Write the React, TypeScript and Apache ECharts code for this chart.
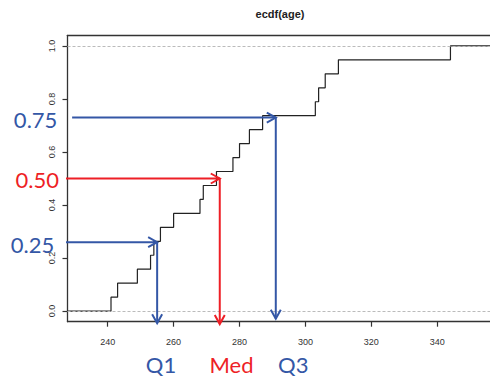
import React, { useEffect, useRef } from "react";
import * as echarts from "echarts";

// Sorted ages (one jump per observation in the ECDF)
const ages = [241, 243, 249, 253, 254, 256, 260, 268, 269, 273, 278, 280, 283, 287, 303, 304, 306, 310, 344];
const xTicks = [240, 260, 280, 300, 320, 340];
const yTicks = [0, 0.2, 0.4, 0.6, 0.8, 1.0];
const yTickLabels = ["0.0", "0.2", "0.4", "0.6", "0.8", "1.0"];

// Annotation arrows (Q1, Med, Q3)
const quantileX = [255, 274, 291];
const arrowLevels = [0.26, 0.5, 0.73];
const arrowStartX = [227.35, 227.35, 229.2];
const arrowBottom = [-0.046, -0.049, -0.029];
const arrowColorIdx = [0, 1, 0];
const levelLabels = ["0.25", "0.50", "0.75"];
const quantileLabels = ["Q1", "Med", "Q3"];

const X_MIN = 227.8;
const X_MAX = 356;
const Y_MIN = -0.04;
const Y_MAX = 1.04;

const BLUE = "#3457a6";
const RED = "#ee1f26";
const COLORS = [BLUE, RED];

export default function App() {
  const ref = useRef<HTMLDivElement>(null);
  useEffect(() => {
    if (!ref.current) return;
    const chart = echarts.init(ref.current, null, { renderer: "svg" });
    const n = ages.length;
    const stepData: number[][] = [[X_MIN, 0]];
    ages.forEach((a, i) => stepData.push([a, (i + 1) / n]));
    stepData.push([X_MAX, 1]);

    const arrowData: number[][] = [];
    quantileX.forEach((qx, i) => {
      arrowData.push([arrowStartX[i], arrowLevels[i], qx, arrowLevels[i], arrowColorIdx[i]]);
      arrowData.push([qx, arrowLevels[i], qx, arrowBottom[i], arrowColorIdx[i]]);
    });

    const labelPos = [
      [32.5, 244.2],
      [37.2, 179.2],
      [35.6, 119],
    ];
    const qPos = [161, 231.5, 293.3];

    const graphics: any[] = [
      {
        type: "text",
        x: 280,
        y: 14,
        style: {
          text: "ecdf(age)",
          font: "bold 11px 'Liberation Sans', Arial, sans-serif",
          fill: "#222",
          textAlign: "center",
          textVerticalAlign: "middle",
        },
      },
    ];
    levelLabels.forEach((t, i) => {
      graphics.push({
        type: "text",
        x: labelPos[i][0],
        y: labelPos[i][1],
        style: {
          text: t,
          font: "22px Lato, sans-serif",
          fill: COLORS[arrowColorIdx[i]],
          textAlign: "center",
          textVerticalAlign: "middle",
        },
      });
    });
    quantileLabels.forEach((t, i) => {
      graphics.push({
        type: "text",
        x: qPos[i],
        y: 364,
        style: {
          text: t,
          font: "22px Lato, sans-serif",
          fill: COLORS[arrowColorIdx[i]],
          textAlign: "center",
          textVerticalAlign: "middle",
        },
      });
    });

    chart.setOption({
      animation: false,
      grid: { left: 67.5, top: 35.3, right: 0, bottom: 57.3, containLabel: false },
      xAxis: [
        {
          type: "value",
          min: X_MIN,
          max: X_MAX,
          position: "bottom",
          axisLine: { show: true, onZero: false, lineStyle: { color: "#333", width: 1.3 } },
          axisTick: { show: true, length: 5, customValues: xTicks, lineStyle: { color: "#333", width: 1.2 } },
          axisLabel: {
            show: true,
            customValues: xTicks,
            margin: 16,
            fontSize: 9,
            color: "#333",
            fontFamily: "'Liberation Sans', Arial, sans-serif",
          },
          splitLine: { show: false },
        },
        {
          type: "value",
          min: X_MIN,
          max: X_MAX,
          position: "top",
          axisLine: { show: true, onZero: false, lineStyle: { color: "#333", width: 1.3 } },
          axisTick: { show: false },
          axisLabel: { show: false },
          splitLine: { show: false },
        },
      ],
      yAxis: {
        type: "value",
        min: Y_MIN,
        max: Y_MAX,
        axisLine: { show: true, onZero: false, lineStyle: { color: "#333", width: 1.3 } },
        axisTick: { show: true, length: 5, customValues: yTicks, lineStyle: { color: "#333", width: 1.2 } },
        axisLabel: {
          show: true,
          customValues: yTicks,
          rotate: 90,
          margin: 11,
          fontSize: 9,
          color: "#333",
          fontFamily: "'Liberation Sans', Arial, sans-serif",
          formatter: (v: number) => {
            const idx = yTicks.findIndex((t) => Math.abs(t - v) < 1e-6);
            return idx >= 0 ? yTickLabels[idx] : "";
          },
        },
        splitLine: { show: false },
      },
      series: [
        {
          type: "line",
          step: "end",
          data: stepData,
          showSymbol: false,
          symbol: "none",
          lineStyle: { color: "#222", width: 1.2 },
          z: 2,
          markLine: {
            silent: true,
            symbol: "none",
            label: { show: false },
            lineStyle: { type: [3, 2], color: "#bbb", width: 1 },
            data: [{ yAxis: 0 }, { yAxis: 1 }],
          },
        },
        {
          type: "custom",
          clip: false,
          z: 5,
          encode: { x: [0, 2], y: [1, 3] },
          data: arrowData,
          renderItem: (params: any, api: any) => {
            const p1 = api.coord([api.value(0), api.value(1)]);
            const p2 = api.coord([api.value(2), api.value(3)]);
            const color = COLORS[api.value(4)];
            const dx = p2[0] - p1[0];
            const dy = p2[1] - p1[1];
            const len = Math.sqrt(dx * dx + dy * dy) || 1;
            const ux = dx / len;
            const uy = dy / len;
            const L = 9;
            const W = 5;
            const h1 = [p2[0] - ux * L - uy * W, p2[1] - uy * L + ux * W];
            const h2 = [p2[0] - ux * L + uy * W, p2[1] - uy * L - ux * W];
            return {
              type: "group",
              children: [
                {
                  type: "line",
                  shape: { x1: p1[0], y1: p1[1], x2: p2[0], y2: p2[1] },
                  style: { stroke: color, lineWidth: 2 },
                },
                {
                  type: "polyline",
                  shape: { points: [h1, p2, h2] },
                  style: { stroke: color, lineWidth: 2, fill: null },
                },
              ],
            };
          },
        },
      ],
      graphic: graphics,
    });
    return () => chart.dispose();
  }, []);
  return (
    <div
      ref={ref}
      style={{ position: "fixed", left: 0, top: 0, width: 490, height: 379, background: "#fff" }}
    />
  );
}
